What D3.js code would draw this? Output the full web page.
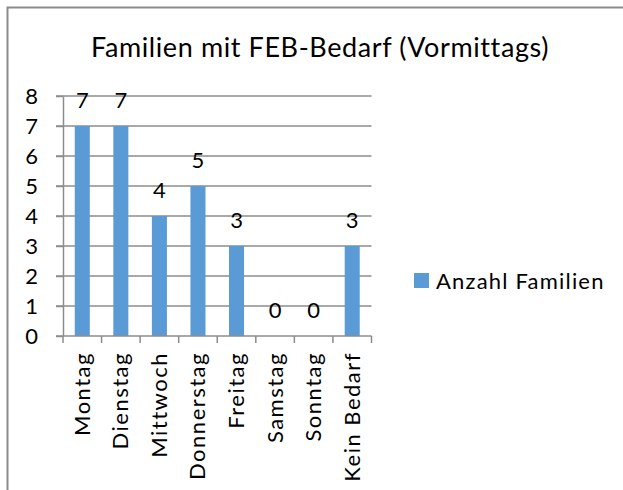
<!DOCTYPE html>
<html>
<head>
<meta charset="UTF-8">
<title>Familien mit FEB-Bedarf</title>
<style>
  body { margin: 0; background: #fff; }
  text { font-family: Lato, "Open Sans", sans-serif; fill: #000; }
  .grid line { stroke: #8c8c8c; stroke-width: 1.5px; }
  .axis path, .axis line { stroke: #8c8c8c; stroke-width: 1.5px; }
</style>
</head>
<body>
<svg id="chart"></svg>
<script src="https://d3js.org/d3.v7.min.js"></script>
<script>

var days = ["Montag", "Dienstag", "Mittwoch", "Donnerstag", "Freitag", "Samstag", "Sonntag", "Kein Bedarf"];
var familien = [7, 7, 4, 5, 3, 0, 0, 3];
var yTicks = [0, 1, 2, 3, 4, 5, 6, 7, 8];
var seriesName = "Anzahl Familien";
var title = "Familien mit FEB-Bedarf (Vormittags)";

var W = 623, H = 490;
var plot = { left: 63, right: 371.5, top: 96, bottom: 336 };

var svg = d3.select("#chart").attr("width", W).attr("height", H);

// outer frame
svg.append("rect")
  .attr("x", 7.5).attr("y", 7.5)
  .attr("width", W).attr("height", H)
  .attr("fill", "none")
  .attr("stroke", "#8c8c8c")
  .attr("stroke-width", 2);

svg.append("text")
  .attr("x", 320).attr("y", 57)
  .attr("text-anchor", "middle")
  .style("font-size", "27px")
  .style("letter-spacing", "0.6px")
  .text(title);

var x = d3.scaleBand().domain(days).range([plot.left, plot.right]).paddingInner(0.61).paddingOuter(0.305);
var xTicks = d3.scaleBand().domain(days).range([plot.left, plot.right]);
var y = d3.scaleLinear().domain([0, 8]).range([plot.bottom, plot.top]);

// gridlines
svg.append("g").attr("class", "grid")
  .selectAll("line").data(yTicks.slice(1)).enter().append("line")
  .attr("x1", plot.left - 7).attr("x2", plot.right)
  .attr("y1", function (d) { return y(d); })
  .attr("y2", function (d) { return y(d); });

// y axis
svg.append("g").attr("class", "axis")
  .attr("transform", "translate(" + plot.left + ",0)")
  .call(d3.axisLeft(y).tickValues(yTicks).tickSize(7).tickSizeOuter(0).tickPadding(18))
  .call(function (g) {
    g.selectAll("text").style("font-size", "22px").attr("fill", "#000");
  });

// bars
svg.append("g").selectAll("rect").data(familien).enter().append("rect")
  .attr("x", function (d, i) { return x(days[i]); })
  .attr("y", function (d) { return y(d); })
  .attr("width", x.bandwidth())
  .attr("height", function (d) { return y(0) - y(d); })
  .attr("fill", "#5b9bd5");

// x axis
var xAxisG = svg.append("g").attr("class", "axis")
  .attr("transform", "translate(0," + plot.bottom + ")");
xAxisG.append("line")
  .attr("x1", plot.left - 7).attr("x2", plot.right);
xAxisG.selectAll(".tk").data(days.concat([null])).enter().append("line")
  .attr("class", "tk")
  .attr("x1", function (d, i) { return i < days.length ? xTicks(d) : plot.right; })
  .attr("x2", function (d, i) { return i < days.length ? xTicks(d) : plot.right; })
  .attr("y1", 0).attr("y2", 7);

xAxisG.selectAll("text").data(days).enter().append("text")
  .attr("transform", function (d) {
    return "translate(" + (xTicks(d) + xTicks.bandwidth() / 2 + 7.5) + ",16) rotate(-90)";
  })
  .attr("text-anchor", "end")
  .style("font-size", "22px")
  .style("letter-spacing", "1.5px")
  .text(function (d) { return d; });

// value labels
svg.append("g").selectAll("text").data(familien).enter().append("text")
  .attr("x", function (d, i) { return x(days[i]) + x.bandwidth() / 2; })
  .attr("y", function (d) { return y(d) - 18; })
  .attr("text-anchor", "middle")
  .style("font-size", "22px")
  .text(function (d) { return d; });

// legend
var legend = svg.append("g").attr("transform", "translate(414,273)");
legend.append("rect").attr("width", 15).attr("height", 15).attr("fill", "#5b9bd5");
legend.append("text").attr("x", 22).attr("y", 15.5)
  .style("font-size", "22px")
  .style("letter-spacing", "1.2px")
  .text(seriesName);

</script>
</body>
</html>
